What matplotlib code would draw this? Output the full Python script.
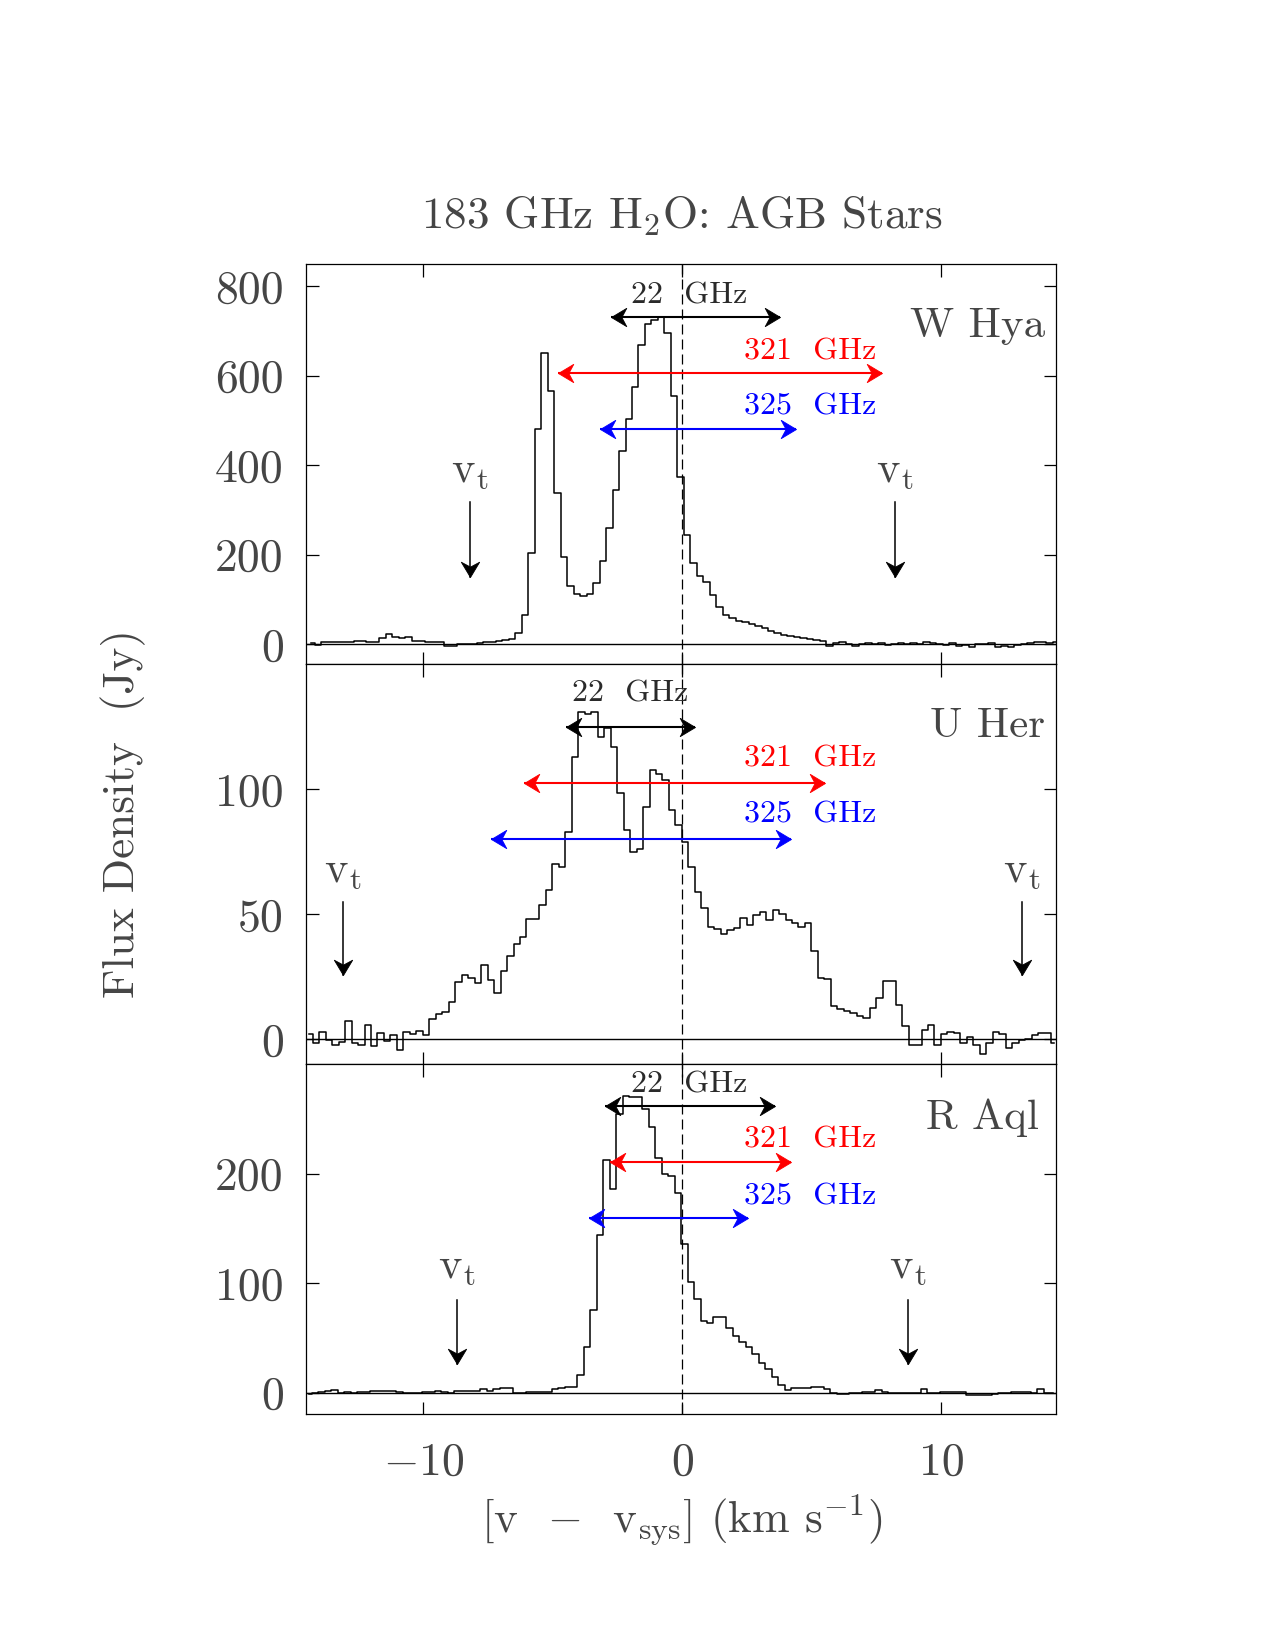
import numpy as np
import matplotlib
matplotlib.use('Agg')
import matplotlib.pyplot as plt
from matplotlib.path import Path
from matplotlib.markers import MarkerStyle

plt.rcParams['font.family'] = ['cmr10', 'DejaVu Serif']
plt.rcParams['mathtext.fontset'] = 'cm'
plt.rcParams['axes.unicode_minus'] = False
plt.rcParams['axes.formatter.use_mathtext'] = True

# ---------------- data ----------------
CHAN_W = 0.25          # km/s channel width

# W Hya
whya_v0 = -14.32
whya_flux = [2, -1, 4, 5, 6, 6, 5, 7, 8, 5, 6, 13, 23, 17, 13, 16, 8, 8, 6, 6,
             4, -3, -3, 0, 1, 0, 2, 6, 6, 7, 9,
             11, 26, 65, 205, 481, 652, 566, 339, 194, 130, 112, 109, 112, 136,
             187, 261, 344, 432, 503, 574, 670, 717, 725, 731, 695, 555, 373,
             244, 181, 153, 140, 110, 84, 65, 58, 53, 49, 45, 41, 36, 30, 25,
             21, 18, 17, 13, 12, 10, 7, -3,
             2, 5, 1, -4, 1, 3, 0, 2, -2, 1, 2, 0, 3, 1, 5, 2, 0, -2, 2, -3,
             -1, -5, 1, 0, 2, -5, -3, -5, -1, 0, 2, 4, 5, 3, 6]

# U Her
uher_v0 = -14.395
uher_flux = [2.1, -1.6, 2.8, -0.3, -2.3, -1.3, 7.1, -1.6, -2.5, 5.7, -2.9, 2.4,
             -0.9, 1.7, -4.5,
             3, 2, 3.3, 1.7, 8.2, 10.1, 10.7, 14.8, 22.7, 25.7, 24.4, 22.4, 29.5,
             23.7, 18.4, 27.1, 33.1, 38.1, 40.7, 48, 48, 53.5, 59.5, 70.1, 68.8,
             82.7, 112.7,
             131, 130, 131, 120.8, 124.4, 117, 98.4, 83.5, 75, 76, 93, 107.5, 106,
             103.7, 91.7, 85.7, 79, 69, 58.7, 52.4, 45, 44, 42.1, 43.7, 44.4,
             48.4, 45.7, 49.7, 50.7, 47.7, 51.5, 50.1, 47.7, 46.4, 45, 46.4, 35.1,
             24.4, 24, 13.1, 12, 11.1, 10.4, 9.3, 8.4, 12.4, 16.4, 23.1, 23.3,
             13.7, 5.1, -2.3,
             -2.3, 3.7, 5.5, -2.5, 2.1, 2.8, 2.4, -1.6, 0.8, -2.5, -5.9, -1.6,
             2.8, 2, -3.6, -1.6, -0.3, 0, 1.7, 2.4, 2.4, -1.6]

# R Aql
raql_v0 = -14.425
raql_flux = [-1.5, -0.5, 1, 1.5, 2.4, -0.5, 1, 0, 1, 1, 2, 1.5, 2, 2, 1, -0.5,
             -0.6, 0, 0.5, 1, 1.5, 1, 0, 1.5, 1.5, 2, 2, 3, 1.5, 3, 4, 4, -0.6,
             -0.5, 1, 1, 1, 1, 3, 4,
             4.9, 5.5, 16, 42, 76, 144, 213, 186, 255, 271, 269.7, 270, 258.8,
             243, 214, 199.4, 198.2, 182, 135.5, 101.4, 85.2, 65.8, 64, 69.4,
             68.8, 58.8, 51.8, 46.6, 42, 35, 27.4, 21.3, 14.6, 7, 2.4, 4,
             4.6, 4.6, 4.9, 4.9, 3, 0, -1.5, -1.5, 0, 0, 0.5, 0.5, 2.4, 1, -0.6,
             -0.6, 0, 0, 0, 3, 0, -0.6, 1, 1, 1, 1, -2, -2, -2, -2, -1.5, 0, 0,
             1, 1, 1, -0.6, 3.3, 0, 0]

star_names = ['W Hya', 'U Her', 'R Aql']
y_ticks = [[0, 200, 400, 600, 800], [0, 50, 100], [0, 100, 200]]
x_ticks = [-10, 0, 10]
x_ticklabels = ['$-$10', '0', '10']
line_labels = ['22  GHz', '321  GHz', '325  GHz']

# velocity extents of the maser lines (km/s): 22, 321, 325 GHz
arrow_22 = [(-2.76, 3.77), (-4.48, 0.47), (-2.98, 3.56)]
arrow_321 = [(-4.82, 7.69), (-6.13, 5.49), (-2.79, 4.18)]
arrow_325 = [(-3.19, 4.37), (-7.40, 4.18), (-3.60, 2.53)]
v_t = [(-8.21, 8.19), (-13.1, 13.12), (-8.70, 8.70)]

# ---------------- layout ----------------
ylims = [(-44, 850), (-9.9, 150.1), (-19.5, 300.2)]
arrow_y = [(731, 606, 482), (124.8, 102.4, 80.0), (261.8, 211.0, 159.8)]
label_y = [(762, 637, 512.5), (135.0, 109.0, 86.7), (274.3, 223.7, 172.3)]
label22_x = [0.27, -2.02, 0.27]
name_pos = [(14.0, 687.5), (14.0, 121.0), (13.75, 240.8)]
vt_geom = [(319, 151, 363), (55, 25.5, 63), (84.6, 25.9, 105)]

TXT = '#454545'
fig = plt.figure(figsize=(12.75, 16.5), dpi=100)
L, Wd = 0.240, 0.5882
axes = [fig.add_axes([L, 0.5976, Wd, 0.2424]),
        fig.add_axes([L, 0.3552, Wd, 0.2424]),
        fig.add_axes([L, 0.1430, Wd, 0.2121])]

head_r = MarkerStyle(Path([(0, 0), (-1, 0.6), (-0.68, 0), (-1, -0.6), (0, 0)],
                          [1, 2, 2, 2, 79]))
head_l = MarkerStyle(Path([(0, 0), (1, 0.6), (0.68, 0), (1, -0.6), (0, 0)],
                          [1, 2, 2, 2, 79]))
head_d = MarkerStyle(Path([(0, 0), (-0.6, 1), (0, 0.68), (0.6, 1), (0, 0)],
                          [1, 2, 2, 2, 79]))


def harrow(ax, x0, x1, y, color):
    ax.plot([x0, x1], [y, y], color=color, lw=1.5, solid_capstyle='butt')
    ax.plot([x1], [y], marker=head_r, ms=22, color=color, mec=color, mew=0.6, ls='none')
    ax.plot([x0], [y], marker=head_l, ms=22, color=color, mec=color, mew=0.6, ls='none')


def varrow(ax, x, y0, y1):
    ax.plot([x, x], [y0, y1], color='k', lw=1.1)
    ax.plot([x], [y1], marker=head_d, ms=22, color='k', mec='k', mew=0.6, ls='none')


spectra = [(whya_v0, whya_flux), (uher_v0, uher_flux), (raql_v0, raql_flux)]

for k, ax in enumerate(axes):
    v0, flux = spectra[k]
    vel = v0 + CHAN_W * np.arange(len(flux))
    ax.step(vel, flux, where='mid', color='k', lw=1.1)
    ax.axhline(0, color='k', lw=1.0)
    ax.axvline(0, color='k', lw=0.9, dashes=(8, 4))
    ax.set_xlim(-14.53, 14.42)
    ax.set_ylim(*ylims[k])
    ax.set_yticks(y_ticks[k])
    ax.set_yticklabels([str(t) for t in y_ticks[k]])
    ax.set_xticks(x_ticks)
    if k == 2:
        ax.set_xticklabels(x_ticklabels)
    else:
        ax.set_xticklabels([])
    ax.tick_params(direction='in', length=9, width=0.9, top=True, right=True,
                   labelsize=33, labelcolor=TXT, color='k')
    ax.tick_params(axis='y', pad=16)
    ax.tick_params(axis='x', pad=20)
    for s in ax.spines.values():
        s.set_linewidth(0.9)

    a22, a321, a325 = arrow_22[k], arrow_321[k], arrow_325[k]
    y22, y321, y325 = arrow_y[k]
    l22, l321, l325 = label_y[k]
    harrow(ax, a22[0], a22[1], y22, 'k')
    harrow(ax, a321[0], a321[1], y321, '#ff0000')
    harrow(ax, a325[0], a325[1], y325, '#0000ff')
    ax.text(label22_x[k], l22, line_labels[0], ha='center', va='baseline', fontsize=23, color='#2a2a2a')
    ax.text(7.5, l321, line_labels[1], ha='right', va='baseline', fontsize=23, color='#ff0000')
    ax.text(7.5, l325, line_labels[2], ha='right', va='baseline', fontsize=23, color='#0000ff')
    ax.text(name_pos[k][0], name_pos[k][1], star_names[k], ha='right', va='baseline',
            fontsize=31, color=TXT)
    ytop, ytip, ylab = vt_geom[k]
    for xv in v_t[k]:
        varrow(ax, xv, ytop, ytip)
        ax.text(xv, ylab, r'v$_{\rm t}$', ha='center', va='baseline', fontsize=32, color=TXT)

fig.text(0.535, 0.8618, r'183 GHz H$_2$O: AGB Stars', ha='center', va='baseline',
         fontsize=32.5, color=TXT)
fig.text(0.535, 0.0721, r'[v  $-$  v$_{\rm sys}$] (km s$^{-1}$)', ha='center', va='baseline',
         fontsize=32.5, color=TXT)
fig.text(0.0965, 0.5067, 'Flux Density  (Jy)', rotation=90, ha='center', va='center',
         fontsize=32.5, color=TXT)

fig.savefig('out.png', dpi=100)
